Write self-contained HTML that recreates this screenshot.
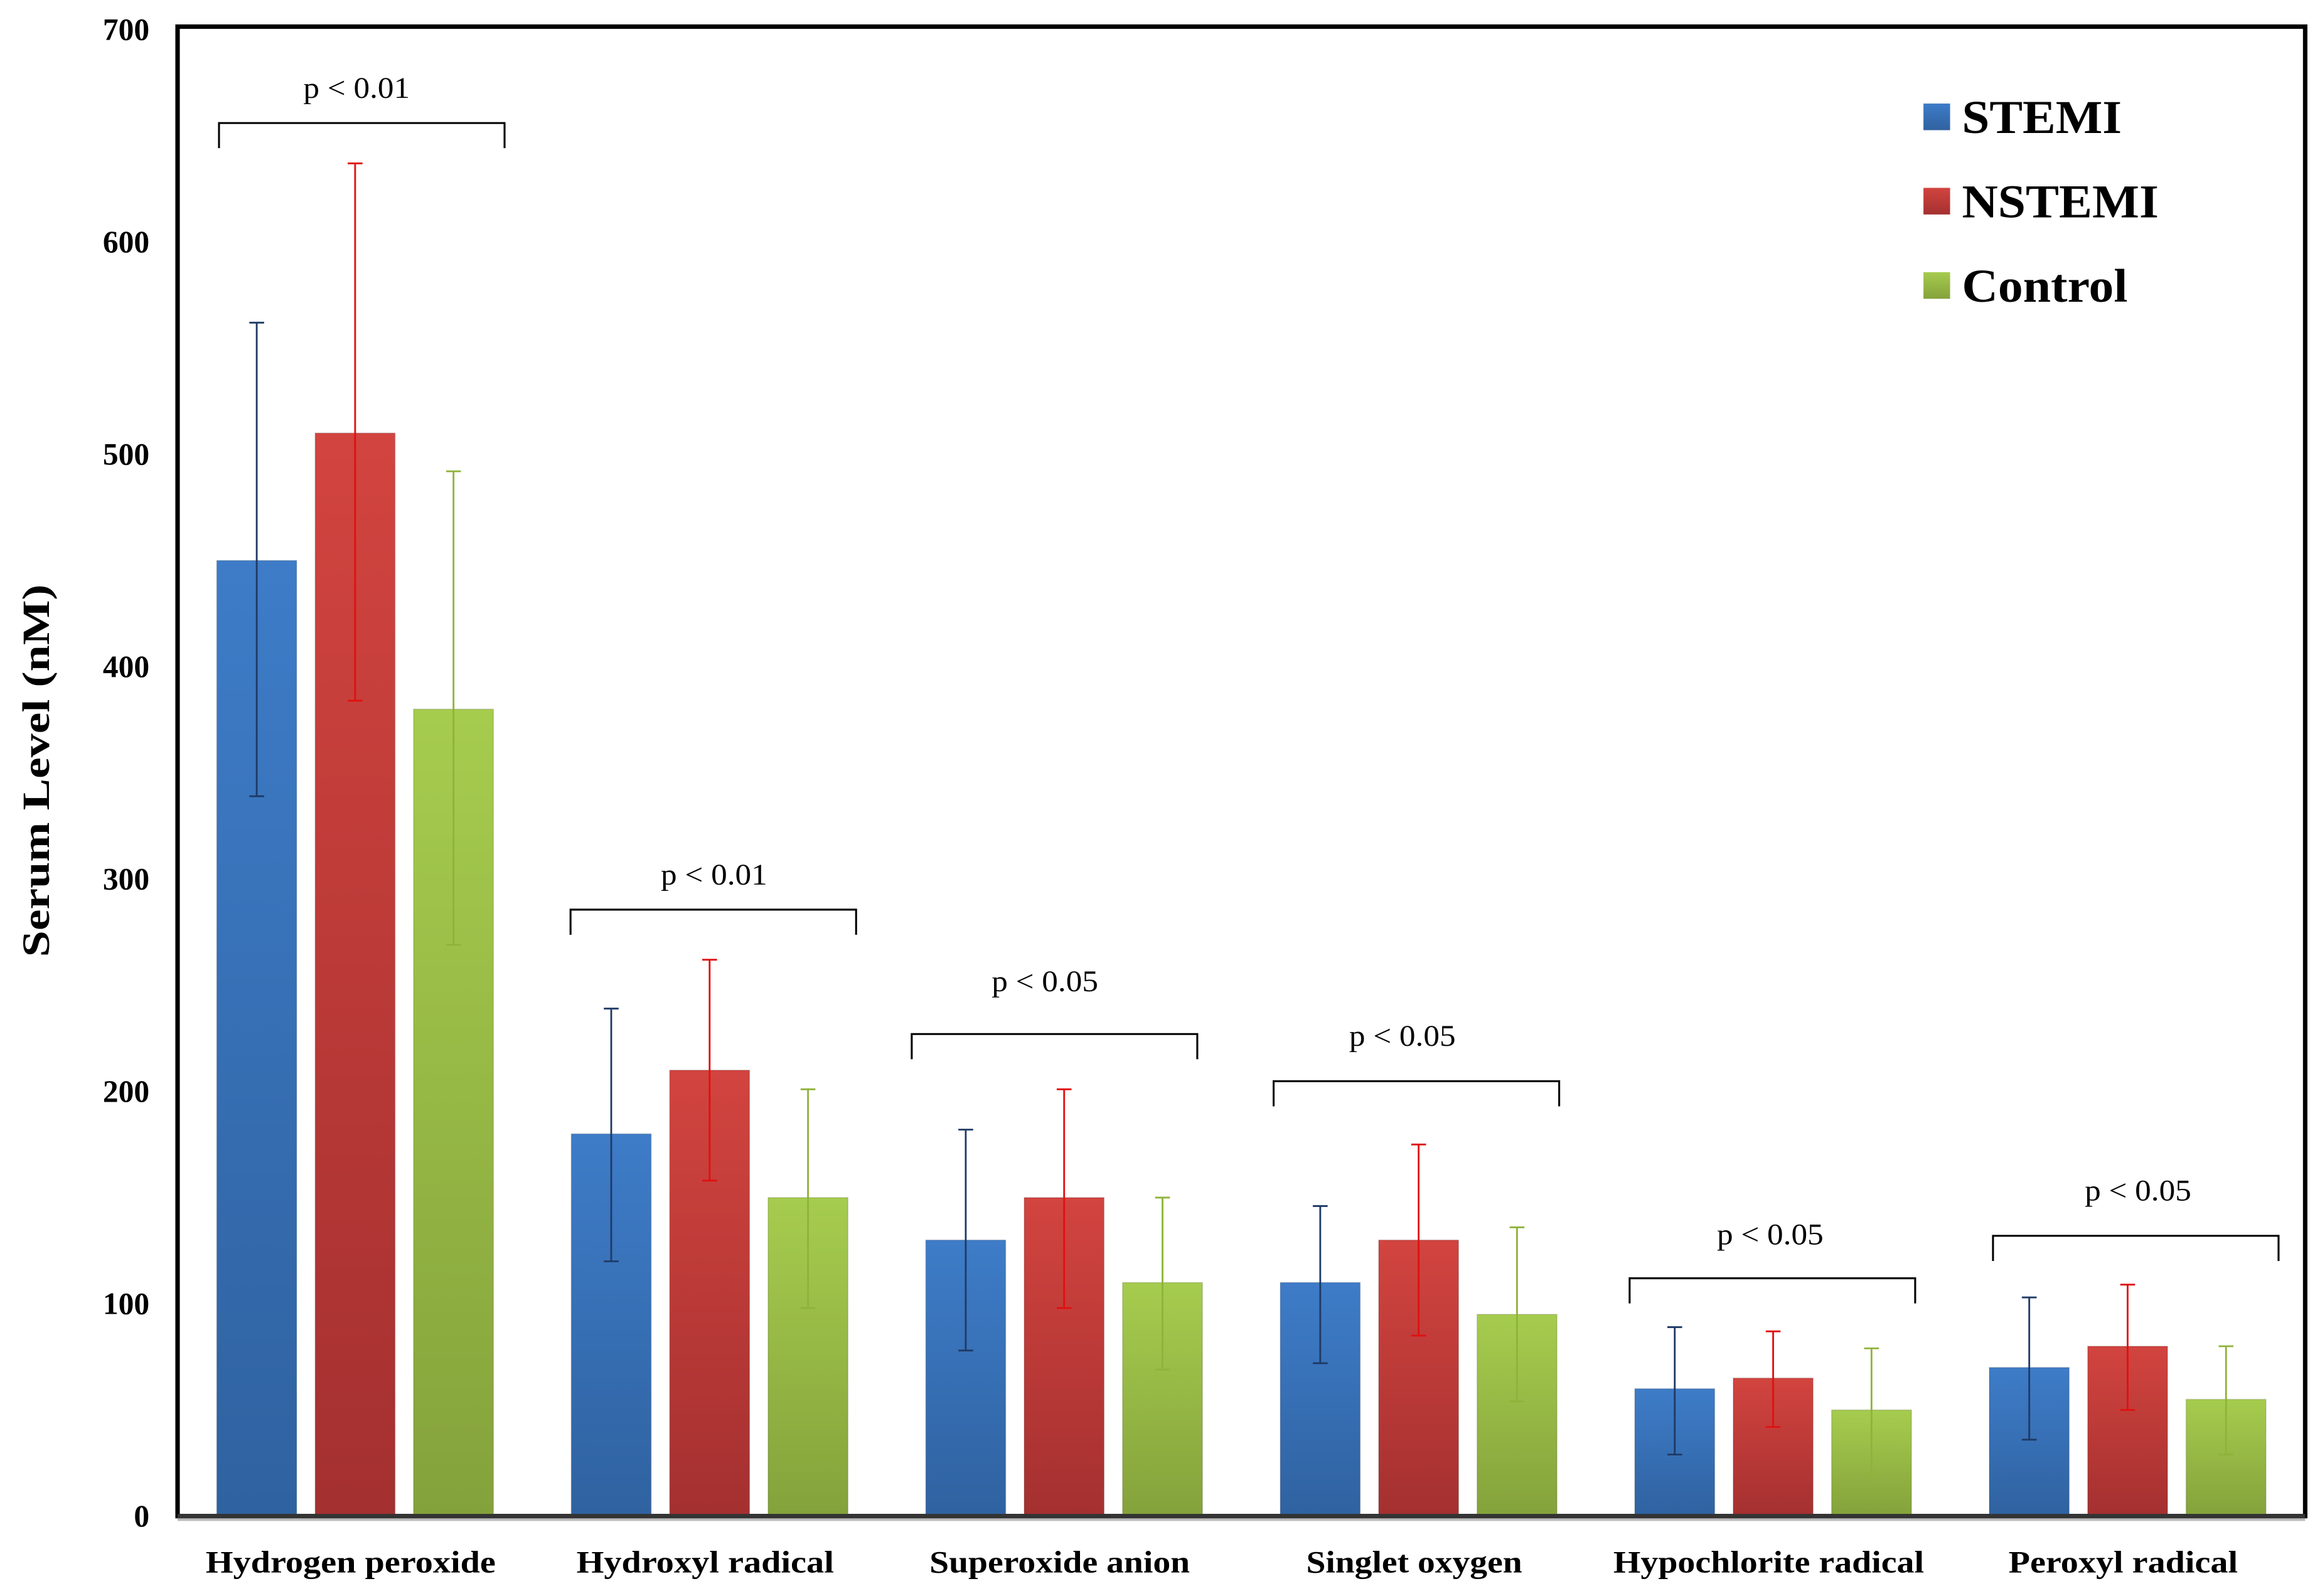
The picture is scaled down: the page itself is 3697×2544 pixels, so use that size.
<!DOCTYPE html>
<html><head><meta charset="utf-8"><style>html,body{margin:0;padding:0;background:#fff}svg{display:block}</style></head>
<body>
<svg id="chart" xmlns="http://www.w3.org/2000/svg" width="3697" height="2544" viewBox="0 0 1568 1079" font-family="'Liberation Serif', serif">
<defs>
<linearGradient id="gb" x1="0" y1="0" x2="0" y2="1"><stop offset="0" stop-color="#3e7cc8"/><stop offset="1" stop-color="#2f62a0"/></linearGradient>
<linearGradient id="gr" x1="0" y1="0" x2="0" y2="1"><stop offset="0" stop-color="#d2443f"/><stop offset="1" stop-color="#a43030"/></linearGradient>
<linearGradient id="gg" x1="0" y1="0" x2="0" y2="1"><stop offset="0" stop-color="#a6cc4e"/><stop offset="1" stop-color="#84a23b"/></linearGradient>
</defs>
<rect x="0" y="0" width="1568" height="1079" fill="#fff"/>
<rect x="120" y="18" width="1438" height="1007" fill="none" stroke="#000" stroke-width="3"/>
<text transform="translate(33,521) rotate(-90)" text-anchor="middle" font-weight="bold" font-size="26" textLength="252" lengthAdjust="spacingAndGlyphs">Serum Level (nM)</text>
<g id="yticks"></g>
<g id="bars"></g>
<g id="errs"></g>
<g id="sig"></g>
<g id="xlabels"></g>
<line x1="120" y1="1025" x2="1558" y2="1025" stroke="#333" stroke-width="3"/>
<line x1="120" y1="1027.5" x2="1558" y2="1027.5" stroke="#bbb" stroke-width="1.5"/>
<g>
<g><rect x="1300" y="70" width="18" height="18" fill="url(#gb)"/><text x="1326" y="90" font-weight="bold" font-size="32" textLength="108" lengthAdjust="spacingAndGlyphs">STEMI</text></g>
<g><rect x="1300" y="127" width="18" height="18" fill="url(#gr)"/><text x="1326" y="147" font-weight="bold" font-size="32" textLength="133" lengthAdjust="spacingAndGlyphs">NSTEMI</text></g>
<g><rect x="1300" y="184" width="18" height="18" fill="url(#gg)"/><text x="1326" y="204" font-weight="bold" font-size="32" textLength="112" lengthAdjust="spacingAndGlyphs">Control</text></g>
</g>
</svg>
<script>
const categories = ["Hydrogen peroxide","Hydroxyl radical","Superoxide anion","Singlet oxygen","Hypochlorite radical","Peroxyl radical"];
const stemi = [450,180,130,110,60,70];
const nstemi = [510,210,150,130,65,80];
const control = [380,150,110,95,50,55];
const stemiErrHi = [562,239,182,146,89,103];
const stemiErrLo = [339,120,78,72,29,36];
const nstemiErrHi = [637,262,201,175,87,109];
const nstemiErrLo = [384,158,98,85,42,50];
const controlErrHi = [492,201,150,136,79,80];
const controlErrLo = [269,98,69,54,20,29];
const pLabels = ["p < 0.01","p < 0.01","p < 0.05","p < 0.05","p < 0.05","p < 0.05"];
const bracketLevels = [656,285.6,227,204.8,112,132];
const yTicks = [0,100,200,300,400,500,600,700];

const NS='http://www.w3.org/2000/svg';
const y0=1025, yTop=20, vmax=700;
function y(v){return y0-(v/vmax)*(y0-yTop);}
const gx0=240, gstep=239.6, bw=54, bstep=66.5;
function gx(i){return gx0+i*gstep;}
function mk(tag,attrs,parent){const e=document.createElementNS(NS,tag);for(const k in attrs)e.setAttribute(k,attrs[k]);parent.appendChild(e);return e;}

const yt=document.getElementById('yticks');
yTicks.forEach(v=>{
  const t=mk('text',{x:101,y:y(v)+7,'text-anchor':'end','font-weight':'bold','font-size':'21'},yt);
  
  
  t.textContent=v;
});

const series=[
 {vals:stemi,hi:stemiErrHi,lo:stemiErrLo,fill:'url(#gb)',err:'#1f3a66',name:'stemi'},
 {vals:nstemi,hi:nstemiErrHi,lo:nstemiErrLo,fill:'url(#gr)',err:'#e01010',name:'nstemi'},
 {vals:control,hi:controlErrHi,lo:controlErrLo,fill:'url(#gg)',err:'#8fb33a',name:'control'}
];
const bars=document.getElementById('bars'), errs=document.getElementById('errs');
categories.forEach((c,i)=>{
  series.forEach((s,j)=>{
    const cx=gx(i)+(j-1)*bstep;
    const r=mk('rect',{x:cx-bw/2,y:y(s.vals[i]),width:bw,height:y0-y(s.vals[i]),fill:s.fill,stroke:'rgba(0,0,0,0.12)','stroke-width':'0.8'},bars);
    
    
    const g=mk('g',{stroke:s.err,'stroke-width':'1.2'},errs);
    
    
    mk('line',{x1:cx,x2:cx,y1:y(s.hi[i]),y2:y(s.lo[i])},g);
    mk('line',{x1:cx-5,x2:cx+5,y1:y(s.hi[i]),y2:y(s.hi[i])},g);
    mk('line',{x1:cx-5,x2:cx+5,y1:y(s.lo[i]),y2:y(s.lo[i])},g);
  });
});

const sig=document.getElementById('sig');
const bracketLeftOff=[-92,-94,-103,-98,-97,-91];
const labelOff=[1,3,-13,-11,-2,7];
const labelGap=[17,17,29,24,23,24];
categories.forEach((c,i)=>{
  const L=gx(i)+bracketLeftOff[i], R=L+193, yb=y(bracketLevels[i]);
  const g=mk('g',{},sig);
  
  
  mk('path',{d:`M${L},${yb+17} V${yb} H${R} V${yb+17}`,fill:'none',stroke:'#000','stroke-width':'1.3'},g);
  const t=mk('text',{x:gx(i)+labelOff[i],y:yb-labelGap[i],'text-anchor':'middle','font-size':'20',textLength:'72',lengthAdjust:'spacingAndGlyphs'},g);
  t.textContent=pLabels[i];
});

const xl=document.getElementById('xlabels');
const xlw=[196,174,176,146,210,155];
categories.forEach((c,i)=>{
  const t=mk('text',{x:gx(i)-3,y:1063,'text-anchor':'middle','font-weight':'bold','font-size':'21',textLength:xlw[i],lengthAdjust:'spacingAndGlyphs'},xl);
  
  
  t.textContent=c;
});
</script>
</body></html>
